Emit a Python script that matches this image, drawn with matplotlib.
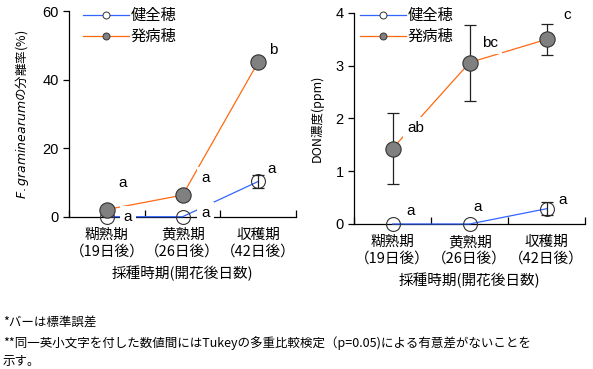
import matplotlib.pyplot as plt
from matplotlib.lines import Line2D

plt.rcParams['font.family'] = ['Noto Sans CJK JP', 'DejaVu Sans']
plt.rcParams['mathtext.fontset'] = 'dejavusans'

# カテゴリ
categories = ['糊熟期\n（19日後）', '黄熟期\n（26日後）', '収穫期\n（42日後）']
x = [0, 1, 2]

# 分離率 (%)
iso_healthy = [0.0, 0.0, 10.3]
iso_healthy_err = [0.0, 0.0, 1.9]
iso_diseased = [2.1, 6.3, 45.2]
iso_diseased_err = [0.0, 0.0, 0.0]
iso_letters_healthy = ['a', 'a', 'a']
iso_letters_diseased = ['a', 'a', 'b']

# DON濃度 (ppm)
don_healthy = [0.0, 0.0, 0.29]
don_healthy_err = [0.0, 0.0, 0.12]
don_diseased = [1.43, 3.06, 3.50]
don_diseased_err = [0.68, 0.72, 0.29]
don_letters_healthy = ['a', 'a', 'a']
don_letters_diseased = ['ab', 'bc', 'c']

BLUE = '#3366ff'
ORANGE = '#ff6a10'
GRAY = '#808080'

fig = plt.figure(figsize=(5.93, 3.69), dpi=100)
ax1 = fig.add_axes([0.1164, 0.4127, 0.383, 0.557])
ax2 = fig.add_axes([0.597, 0.393, 0.390, 0.572])


def draw_panel(ax, healthy, h_err, diseased, d_err, lt_h, lt_d, pos_h, pos_d):
    ax.plot(x, healthy, color=BLUE, lw=0.9, zorder=2.6, clip_on=False)
    ax.plot(x, diseased, color=ORANGE, lw=0.9, zorder=2.6, clip_on=False)
    # 誤差のある点のみエラーバー
    for xi, yi, ei in zip(x, healthy, h_err):
        if ei > 0:
            ax.errorbar(xi, yi, yerr=ei, fmt='none', ecolor='#222222', elinewidth=0.9,
                        capsize=4.5, capthick=0.9, zorder=6)
    for xi, yi, ei in zip(x, diseased, d_err):
        if ei > 0:
            ax.errorbar(xi, yi, yerr=ei, fmt='none', ecolor='#222222', elinewidth=0.9,
                        capsize=4.5, capthick=0.9, zorder=4)
    ax.plot(x, healthy, 'o', ms=10, mfc='none', mec='#333333', mew=0.8, zorder=5, clip_on=False)
    ax.plot(x, diseased, 'o', ms=11, mfc=GRAY, mec='#333333', mew=0.8, zorder=5, clip_on=False)
    for (px, py), t in zip(pos_h, lt_h):
        ax.text(px, py, t, fontsize=11, family='Liberation Sans', ha='center', va='center',
                bbox=dict(fc='white', ec='none', pad=3), zorder=3)
    for (px, py), t in zip(pos_d, lt_d):
        ax.text(px, py, t, fontsize=11, family='Liberation Sans', ha='center', va='center',
                bbox=dict(fc='white', ec='none', pad=3), zorder=3)
    ax.set_xlim(-0.5, 2.5)
    ax.spines['top'].set_visible(False)
    ax.spines['right'].set_visible(False)
    ax.spines['left'].set_linewidth(0.9)
    ax.spines['bottom'].set_linewidth(0.9)
    ax.set_xticks([-0.5, 0.5, 1.5, 2.5])
    ax.set_xticklabels([])
    ax.tick_params(axis='x', direction='in', length=5, width=0.9)
    ax.set_xticks(x, minor=True)
    ax.set_xticklabels(categories, minor=True, fontsize=10.5, linespacing=1.25)
    ax.tick_params(axis='x', which='minor', length=0, pad=8)
    ax.tick_params(axis='y', direction='out', length=4, width=0.9, labelsize=10.5)
    ax.set_xlabel('採種時期(開花後日数)', fontsize=10.5, labelpad=5)
    handles = [Line2D([], [], color=BLUE, lw=0.9, marker='o', ms=5, mfc='white', mec='#333333', mew=0.7),
               Line2D([], [], color=ORANGE, lw=0.9, marker='o', ms=5, mfc=GRAY, mec='#333333', mew=0.7)]
    return handles


h = draw_panel(ax1, iso_healthy, iso_healthy_err, iso_diseased, iso_diseased_err,
               iso_letters_healthy, iso_letters_diseased,
               [(0.28, 0), (1.3, 1.0), (2.18, 13.9)],
               [(0.21, 9.8), (1.3, 11.3), (2.2, 48.6)])
ax1.set_ylim(0, 60)
ax1.set_yticks([0, 20, 40, 60])
for lab in ax1.get_yticklabels():
    lab.set_family('Liberation Sans')
ax1.set_ylabel(r'$\mathit{F.graminearum}$の分離率(%)', fontsize=9, labelpad=8)
ax1.legend(h, ['健全穂', '発病穂'], loc='upper left', bbox_to_anchor=(0.125, 1.005),
           bbox_transform=fig.transFigure, frameon=False, fontsize=11,
           handlelength=3.0, handletextpad=0.1, labelspacing=0.25, borderpad=0.1)

h = draw_panel(ax2, don_healthy, don_healthy_err, don_diseased, don_diseased_err,
               don_letters_healthy, don_letters_diseased,
               [(0.23, 0.25), (1.1, 0.33), (2.21, 0.45)],
               [(0.3, 1.82), (1.26, 3.43), (2.26, 3.96)])
ax2.set_ylim(0, 4)
ax2.set_yticks([0, 1, 2, 3, 4])
for lab in ax2.get_yticklabels():
    lab.set_family('Liberation Sans')
ax2.set_ylabel('DON濃度(ppm)', fontsize=9, labelpad=8)
leg = ax2.legend(h, ['健全穂', '発病穂'], loc='upper left', bbox_to_anchor=(0.592, 1.005),
                 bbox_transform=fig.transFigure, frameon=True, fontsize=11,
                 handlelength=3.0, handletextpad=0.1, labelspacing=0.25, borderpad=0.1)
leg.get_frame().set_facecolor('white')
leg.get_frame().set_edgecolor('none')
leg.get_frame().set_alpha(1)

fig.text(0.005, 1 - 322 / 369, '*バーは標準誤差', fontsize=9, va='center')
fig.text(0.005, 1 - 343 / 369,
         '**同一英小文字を付した数値間にはTukeyの多重比較検定（p=0.05)による有意差がないことを',
         fontsize=9, va='center')
fig.text(0.005, 1 - 361 / 369, '示す。', fontsize=9, va='center')

fig.savefig('out.png', dpi=100)
